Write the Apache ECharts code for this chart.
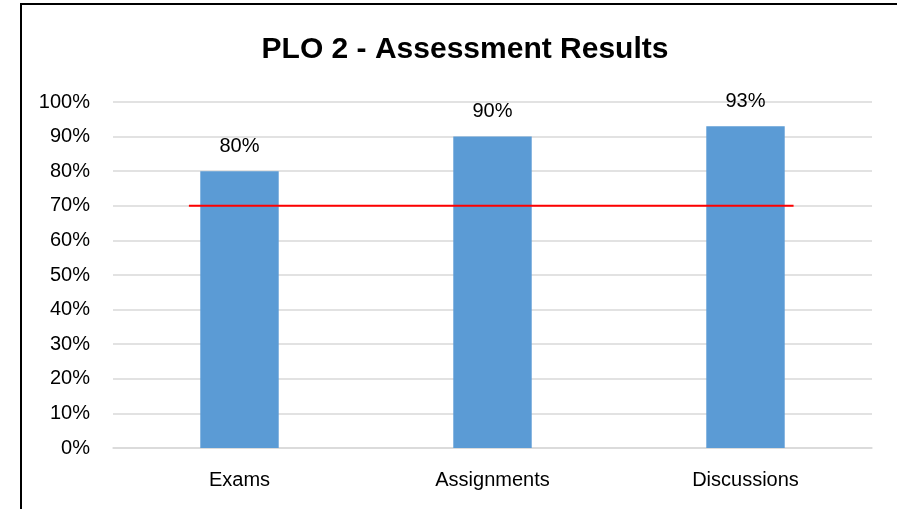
<!DOCTYPE html>
<html>
<head>
<meta charset="utf-8">
<script src="https://cdn.jsdelivr.net/npm/echarts@6/dist/echarts.min.js"></script>
<style>
  html, body { margin: 0; padding: 0; background: #fff; }
  #chart { width: 897px; height: 509px; }
</style>
</head>
<body>
<div id="chart"></div>
<script>
var categories = ["Exams", "Assignments", "Discussions"];
var results = [80, 90, 93];
var yTicks = [0, 10, 20, 30, 40, 50, 60, 70, 80, 90, 100];
// target line at 70%, drawn across the bars (x in category units)
var targetX = [0.3, 2.69];
var targetY = [70, 70];

var chart = echarts.init(document.getElementById("chart"));

var option = {
  animation: false,
  backgroundColor: "#fff",
  textStyle: { fontFamily: "Liberation Sans" },
  graphic: [
    {
      type: "rect",
      shape: { x: 21, y: 4, width: 900, height: 520 },
      style: { fill: "none", stroke: "#000", lineWidth: 2 },
      silent: true,
    },
  ],
  title: {
    text: "PLO 2 - Assessment Results",
    left: 460,
    textAlign: "center",
    top: 30,
    textStyle: {
      fontFamily: "Liberation Sans",
      fontSize: 30,
      fontWeight: "bold",
      color: "#000",
    },
  },
  grid: {
    left: 113,
    right: 25,
    top: 102,
    bottom: 61,
  },
  xAxis: [
    {
      type: "category",
      data: categories,
      axisLine: { lineStyle: { color: "#d9d9d9", width: 1.5 } },
      axisTick: { show: false },
      axisLabel: { color: "#000", fontSize: 20, margin: 22 },
    },
    {
      type: "value",
      min: 0,
      max: 3,
      show: false,
    },
  ],
  yAxis: {
    type: "value",
    min: yTicks[0],
    max: yTicks[yTicks.length - 1],
    interval: 10,
    axisLine: { show: false },
    axisTick: { show: false },
    splitLine: { lineStyle: { color: "#d9d9d9", width: 1.5 } },
    axisLabel: {
      color: "#000",
      fontSize: 20,
      margin: 23,
      formatter: function (v) {
        return v + "%";
      },
    },
  },
  series: [
    {
      type: "bar",
      data: results,
      barWidth: "31%",
      itemStyle: { color: "#5b9bd5" },
      label: {
        show: true,
        position: "top",
        distance: 15,
        color: "#000",
        fontSize: 20,
        formatter: function (p) {
          return p.value + "%";
        },
      },
    },
    {
      type: "line",
      xAxisIndex: 1,
      data: targetX.map(function (x, i) {
        return [x, targetY[i]];
      }),
      symbol: "none",
      lineStyle: { color: "#ff0000", width: 2 },
      z: 5,
    },
  ],
};

chart.setOption(option);
</script>
</body>
</html>
